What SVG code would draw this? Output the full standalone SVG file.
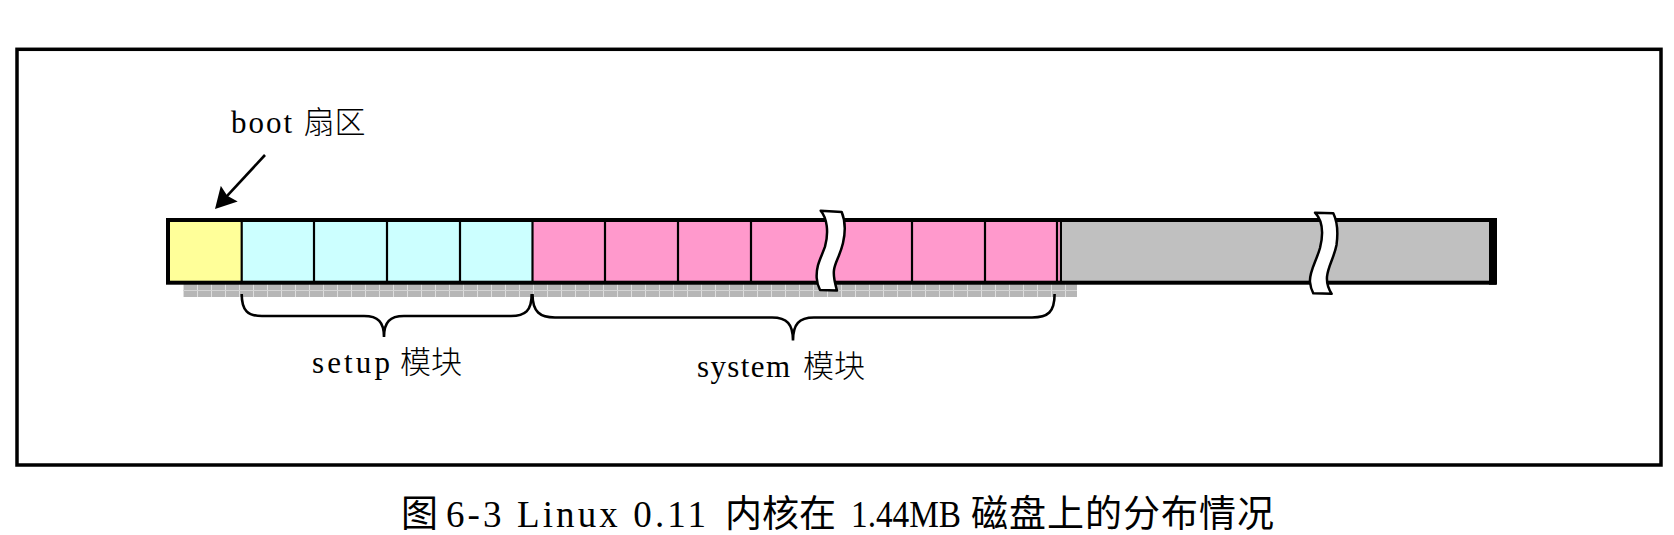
<svg xmlns="http://www.w3.org/2000/svg" width="1674" height="535" viewBox="0 0 1674 535">
  <style>
    .lat { font-family: "Liberation Serif", "DejaVu Serif", serif; fill: #000; }
    .cjk { font-family: "Noto Sans CJK SC", "Noto Sans", sans-serif; fill: #000; }
    .lbl { font-size: 31px; }
    .cap { font-size: 37px; }
    .div { stroke: #000; stroke-width: 2.2; }
    .brk { fill: #fff; stroke: #000; stroke-width: 2.5; stroke-linejoin: round; }
    .brace { fill: none; stroke: #000; stroke-width: 2.6; }
    .yel { fill: #ffff99; }
    .cyan { fill: #ccffff; }
    .pink { fill: #ff99cc; }
    .grey { fill: #c0c0c0; }
  </style>
  <defs>
    <pattern id="hatch" patternUnits="userSpaceOnUse" x="183" y="284" width="14" height="13">
      <rect width="14" height="13" fill="#b6b6b6"/>
      <rect x="0" y="0" width="1" height="13" fill="#dedede"/>
      <rect x="0" y="6" width="14" height="1" fill="#d4d4d4"/>
    </pattern>
    <marker id="ah" markerUnits="userSpaceOnUse" markerWidth="22" markerHeight="24" viewBox="0 0 22 24" refX="11" refY="12" orient="auto">
      <path d="M0,0.5 L21,12 L0,23.5 L3,12 Z" fill="#000"/>
    </marker>
  </defs>

  <rect id="frame" x="17" y="49.3" width="1644" height="415.7" fill="#fff" stroke="#000" stroke-width="3.5"/>

  <g id="shadow">
    <rect x="183" y="284" width="894" height="13" fill="url(#hatch)"/>
  </g>

  <g id="boot-sector">
    <rect class="yel" x="168" y="220" width="73" height="62.7"/>
  </g>

  <g id="setup-module">
    <rect class="cyan" x="241" y="220" width="291" height="62.7"/>
    <line class="div" x1="241.7" y1="220" x2="241.7" y2="282.7"/>
    <line class="div" x1="314" y1="220" x2="314" y2="282.7"/>
    <line class="div" x1="387" y1="220" x2="387" y2="282.7"/>
    <line class="div" x1="460" y1="220" x2="460" y2="282.7"/>
  </g>

  <g id="system-module">
    <rect class="pink" x="532" y="220" width="529" height="62.7"/>
    <line class="div" x1="532.5" y1="220" x2="532.5" y2="282.7"/>
    <line class="div" x1="605" y1="220" x2="605" y2="282.7"/>
    <line class="div" x1="678" y1="220" x2="678" y2="282.7"/>
    <line class="div" x1="751" y1="220" x2="751" y2="282.7"/>
    <line class="div" x1="912" y1="220" x2="912" y2="282.7"/>
    <line class="div" x1="985" y1="220" x2="985" y2="282.7"/>
    <line class="div" x1="1057" y1="220" x2="1057" y2="282.7"/>
    <line class="div" x1="1061" y1="220" x2="1061" y2="282.7"/>
  </g>

  <g id="free-space">
    <rect class="grey" x="1062" y="220" width="432" height="62.7"/>
  </g>

  <g id="disk-outline">
    <rect x="168" y="220" width="1326" height="62.7" fill="none" stroke="#000" stroke-width="4"/>
    <rect x="1489" y="218" width="8" height="66.7" fill="#000"/>
  </g>

  <g id="breaks">
    <path class="brk" d="M820.7,210.7 C827,218 829,232 825,246.7 C821,258 816,265 816.7,278 C817,283 818.5,287 820,290 L837,290.5 C835,283 833,277 834,270 C835,262 840,256 843,243 C845.5,232 845,220 841.7,212 Z"/>
    <path class="brk" d="M1315,212.7 C1322,220 1324,232 1320,248 C1316,262 1309,272 1310,282 C1310.5,287 1312,291 1313.3,293.3 L1331.7,293.8 C1328,288 1326.5,283 1327,276.7 C1328,266 1334,258 1336.5,245 C1338,234 1337.5,222 1333.3,213.3 Z"/>
  </g>

  <g id="connectors">
    <line x1="265" y1="155" x2="221.8" y2="201.7" stroke="#000" stroke-width="2.6" marker-end="url(#ah)"/>
    <path class="brace" d="M241.7,294 C241.7,311 248,316 262,316 L364,316 C378,316 384,322 384,337 C384,322 390,316 404,316 L511,316 C525,316 531.7,311 531.7,294"/>
    <path class="brace" d="M532.5,294 C532.5,312 540,317.5 555,317.5 L772,317.5 C787,317.5 793,324 793,340.5 C793,324 799,317.5 814,317.5 L1032,317.5 C1048,317.5 1054.6,312 1054.6,294"/>
  </g>

  <g id="label-boot">
    <text x="231" y="133" class="lat lbl" textLength="61">boot</text>
    <text x="303.5" y="133" class="cjk lbl" font-weight="300">扇区</text>
  </g>
  <g id="label-setup">
    <text x="312" y="373" class="lat lbl" textLength="78">setup</text>
    <text x="400" y="373" class="cjk lbl" font-weight="300">模块</text>
  </g>
  <g id="label-system">
    <text x="697" y="377" class="lat lbl" textLength="93">system</text>
    <text x="803" y="377" class="cjk lbl" font-weight="300">模块</text>
  </g>

  <g id="caption">
    <text x="401" y="527" class="cjk cap">图</text>
    <text x="446" y="527" class="lat cap" textLength="260">6-3 Linux 0.11</text>
    <text x="725" y="527" class="cjk cap">内核在</text>
    <text x="851" y="527" class="lat cap" textLength="110" lengthAdjust="spacingAndGlyphs">1.44MB</text>
    <text x="971" y="527" class="cjk cap" letter-spacing="1">磁盘上的分布情况</text>
  </g>
</svg>
